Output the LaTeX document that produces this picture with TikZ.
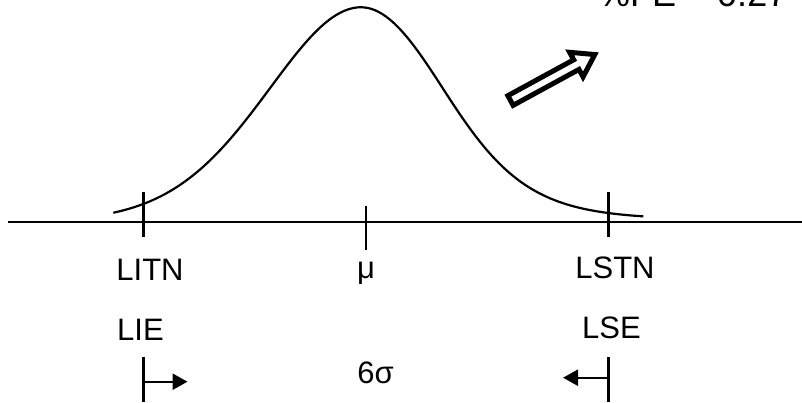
\documentclass[tikz,border=0pt]{standalone}
\usepackage{fontspec}
\setmainfont{Liberation Sans}
\usetikzlibrary{arrows.meta}
\begin{document}
\begin{tikzpicture}[x=1pt,y=-1pt,
  lbl/.style={font=\fontsize{31}{37}\selectfont, inner sep=0pt, anchor=base},
  toplbl/.style={font=\fontsize{36}{43}\selectfont, inner sep=0pt, anchor=base west},
  axisline/.style={line width=2.4pt},
  tickline/.style={line width=2.4pt},
  curveline/.style={line width=2.2pt, line join=round},
  limarrow/.style={line width=2.4pt, -{Triangle[length=15pt,width=16pt]}},
  bigarrow/.style={line width=5pt, line join=miter, miter limit=10, fill=white}]
\useasboundingbox (0,0) rectangle (802,402);
\clip (0,0) rectangle (802,402);
% axis
\coordinate (axL) at (8,222);
\coordinate (axR) at (802,222);
\draw[axisline] (axL) -- (axR);
% normal curve
\draw[curveline]
  plot[domain=113.3:361, samples=70, smooth]
    (\x, {222 - 214.7*exp(-(((\x-361)/100)^2)/(2*(0.905+0.00033*(361-\x))^2))})
  -- plot[domain=361:643.3, samples=80, smooth]
    (\x, {222 - 214.7*exp(-(((\x-361)/100)^2)/(2*(0.84+0.05*((max(0,\x-440))/100)^2)^2))});
% ticks on axis
\coordinate (litnT) at (143.3,192.3);
\coordinate (litnB) at (143.3,236.7);
\coordinate (muT) at (366,205.7);
\coordinate (muB) at (366,250);
\coordinate (lstnT) at (608.3,192.3);
\coordinate (lstnB) at (608.3,236.7);
\draw[tickline] (litnT) -- (litnB);
\draw[tickline] (muT) -- (muB);
\draw[tickline] (lstnT) -- (lstnB);
% labels
\node[lbl] (litn) at (150,280) {LITN};
\node[lbl] (mu) at (366,278) {μ};
\node[lbl] (lstn) at (615,278.5) {LSTN};
\node[lbl] (lie) at (140.5,340) {LIE};
\node[lbl] (lse) at (611.5,338) {LSE};
\node[lbl] (six) at (375.5,383) {6σ};
% bottom ticks and arrows
\coordinate (lieT) at (143.3,357);
\coordinate (lieB) at (143.3,402);
\coordinate (lseT) at (608.3,357);
\coordinate (lseB) at (608.3,402);
\draw[tickline] (lieT) -- (lieB);
\draw[tickline] (lseT) -- (lseB);
\coordinate (lieA) at (143.3,381.7);
\coordinate (lieTip) at (187.5,381.7);
\coordinate (lseA) at (608.3,377.7);
\coordinate (lseTip) at (563,377.7);
\draw[limarrow] (lieA) -- (lieTip);
\draw[limarrow] (lseA) -- (lseTip);
% outline block arrow
\begin{scope}[shift={(510.5,100.5)}, rotate=28.6]
  \draw[bigarrow] (0,-5.5) -- (75,-5.5) -- (75,-14) -- (96,0) -- (75,14) -- (75,5.5) -- (0,5.5) -- cycle;
\end{scope}
% top text (cut off by the frame)
\node[toplbl] (fe) at (598,6) {\%FE = 0.27};
\end{tikzpicture}
\end{document}
